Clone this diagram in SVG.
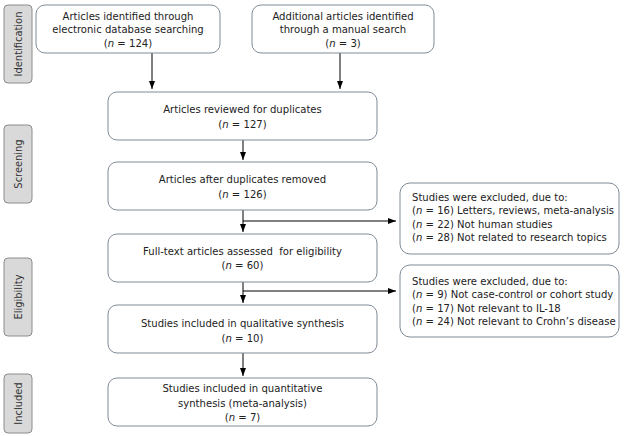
<svg xmlns="http://www.w3.org/2000/svg" width="624" height="436" viewBox="0 0 624 436">
<defs>
<marker id="ah" viewBox="0 0 8 6" refX="8" refY="3" markerWidth="8" markerHeight="6" markerUnits="userSpaceOnUse" orient="auto">
<path d="M0,0 L8,3 L0,6 z" fill="#000"/>
</marker>
<style>
.box{fill:#fff;stroke:#7f8b97;stroke-width:1}
.side{fill:#d9d9d9;stroke:#8c8c8c;stroke-width:1}
text{font-family:"DejaVu Sans Condensed","DejaVu Sans",sans-serif;font-size:11.2px;fill:#222}
.c{text-anchor:middle}
.st{font-size:11px;fill:#333}
.ln{stroke:#000;stroke-width:1;fill:none}
.ar{stroke:#000;stroke-width:1;fill:none;marker-end:url(#ah)}
</style>
</defs>
<rect width="624" height="436" fill="#fff"/>

<g id="side-identification"><rect class="side" x="4" y="5" width="28" height="78" rx="4"/><text class="c st" transform="translate(22,44) rotate(-90)">Identification</text></g>
<g id="side-screening"><rect class="side" x="4" y="125" width="28" height="78" rx="4"/><text class="c st" transform="translate(22,164) rotate(-90)">Screening</text></g>
<g id="side-eligibility"><rect class="side" x="4" y="258" width="28" height="78" rx="4"/><text class="c st" transform="translate(22,297) rotate(-90)">Eligibility</text></g>
<g id="side-included"><rect class="side" x="4" y="374" width="28" height="59" rx="4"/><text class="c st" transform="translate(22,403.5) rotate(-90)">Included</text></g>

<g id="connectors">
<line class="ar" x1="152" y1="53" x2="152" y2="89"/>
<line class="ar" x1="340" y1="53" x2="340" y2="89"/>
<line class="ar" x1="243" y1="140" x2="243" y2="160"/>
<line class="ar" x1="243" y1="210" x2="243" y2="232"/>
<line class="ar" x1="243" y1="221" x2="396" y2="221"/>
<line class="ar" x1="243" y1="282" x2="243" y2="303"/>
<line class="ar" x1="243" y1="291" x2="396" y2="291"/>
<line class="ar" x1="243" y1="353" x2="243" y2="376"/>
</g>

<g id="n1"><rect class="box" x="36" y="5" width="184" height="48" rx="9"/>
<text class="c" x="128" y="19.5">Articles identified through</text>
<text class="c" x="128" y="33">electronic database searching</text>
<text class="c" x="128" y="46.5">(<tspan font-style="italic">n</tspan> = 124)</text></g>

<g id="n2"><rect class="box" x="252" y="5" width="182" height="48" rx="9"/>
<text class="c" x="343" y="19.5">Additional articles identified</text>
<text class="c" x="343" y="33">through a manual search</text>
<text class="c" x="343" y="46.5">(<tspan font-style="italic">n</tspan> = 3)</text></g>

<g id="n3"><rect class="box" x="108" y="92" width="269" height="48" rx="9"/>
<text class="c" x="242.5" y="112.5">Articles reviewed for duplicates</text>
<text class="c" x="242.5" y="127.5">(<tspan font-style="italic">n</tspan> = 127)</text></g>

<g id="n4"><rect class="box" x="108" y="162" width="269" height="48" rx="9"/>
<text class="c" x="242.5" y="182.5">Articles after duplicates removed</text>
<text class="c" x="242.5" y="197.5">(<tspan font-style="italic">n</tspan> = 126)</text></g>

<g id="n5"><rect class="box" x="108" y="234" width="269" height="48" rx="9"/>
<text class="c" x="242.5" y="254.5">Full-text articles assessed&#160; for eligibility</text>
<text class="c" x="242.5" y="269">(<tspan font-style="italic">n</tspan> = 60)</text></g>

<g id="n6"><rect class="box" x="108" y="305" width="269" height="48" rx="9"/>
<text class="c" x="242.5" y="326.5">Studies included in qualitative synthesis</text>
<text class="c" x="242.5" y="341.5">(<tspan font-style="italic">n</tspan> = 10)</text></g>

<g id="n7"><rect class="box" x="108" y="378" width="269" height="48" rx="9"/>
<text class="c" x="242.5" y="392">Studies included in quantitative</text>
<text class="c" x="242.5" y="406.5">synthesis (meta-analysis)</text>
<text class="c" x="242.5" y="420.5">(<tspan font-style="italic">n</tspan> = 7)</text></g>

<g id="x1"><rect class="box" x="400" y="183" width="219" height="71" rx="10"/>
<text x="412" y="201">Studies were excluded, due to:</text>
<text x="412" y="214.3">(<tspan font-style="italic">n</tspan> = 16) Letters, reviews, meta-analysis</text>
<text x="412" y="227.6">(<tspan font-style="italic">n</tspan> = 22) Not human studies</text>
<text x="412" y="240.9">(<tspan font-style="italic">n</tspan> = 28) Not related to research topics</text></g>

<g id="x2"><rect class="box" x="400" y="265" width="219" height="72" rx="10"/>
<text x="412" y="285">Studies were excluded, due to:</text>
<text x="412" y="298.3">(<tspan font-style="italic">n</tspan> = 9) Not case-control or cohort study</text>
<text x="412" y="311.6">(<tspan font-style="italic">n</tspan> = 17) Not relevant to IL-18</text>
<text x="412" y="324.9">(<tspan font-style="italic">n</tspan> = 24) Not relevant to Crohn’s disease</text></g>
</svg>
